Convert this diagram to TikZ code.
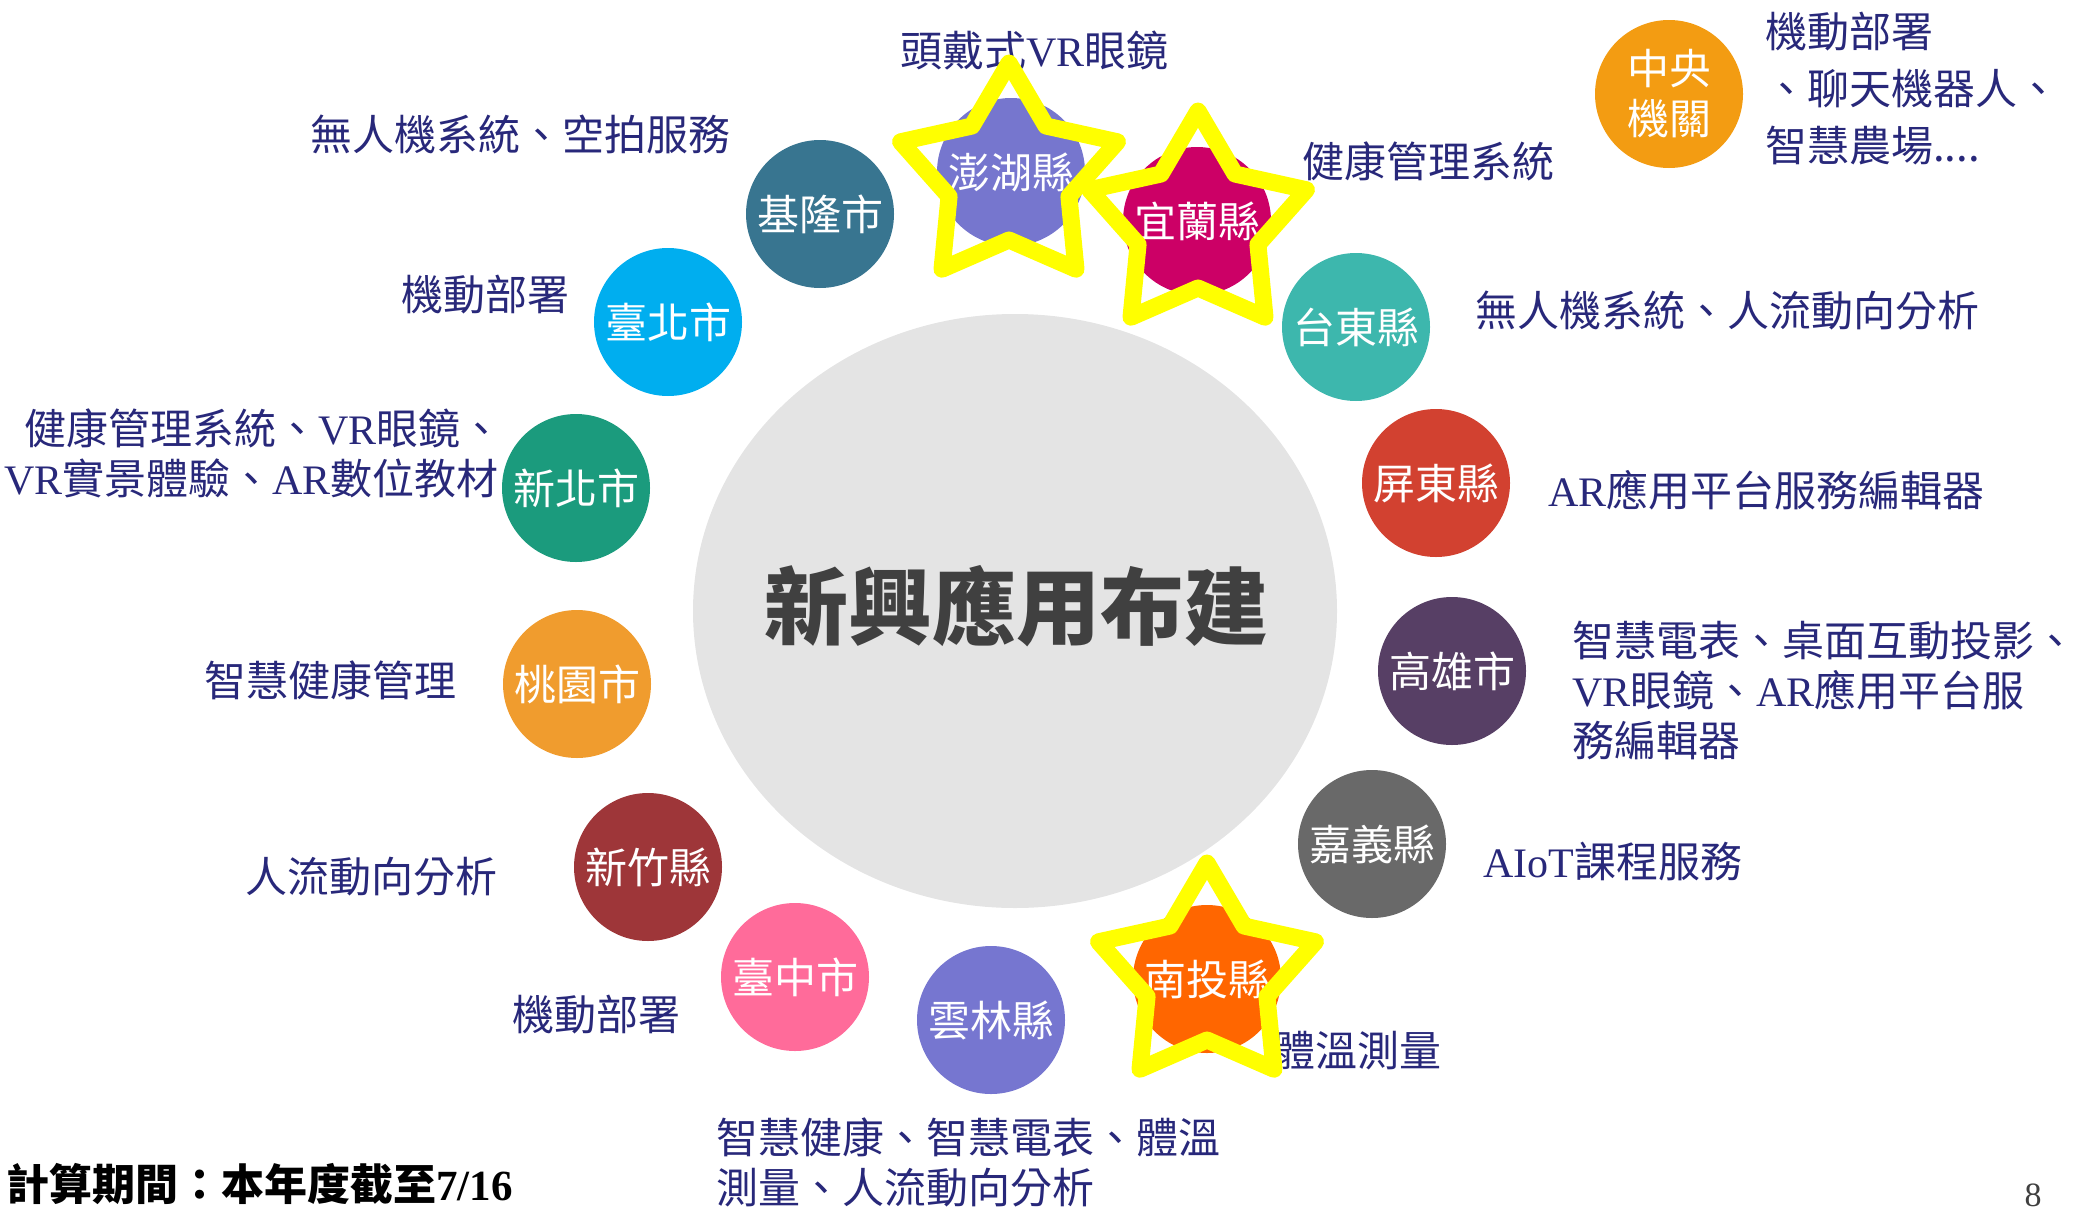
\documentclass[tikz,border=0pt]{standalone}
\usepackage{fontspec}
\usetikzlibrary{shapes.geometric}
\setmainfont{Liberation Serif}
\newfontfamily\zhfont{Noto Sans CJK TC}
\newcommand\zh[1]{{\zhfont #1}}
\definecolor{navy}{HTML}{28287A}
\definecolor{ellgray}{HTML}{E4E4E4}
\definecolor{ctext}{HTML}{404040}
\definecolor{cPH}{HTML}{7676CE}
\definecolor{cYL}{HTML}{CC0066}
\definecolor{cKL}{HTML}{387590}
\definecolor{cTP}{HTML}{00AEEF}
\definecolor{cTT}{HTML}{3DB7AD}
\definecolor{cNTP}{HTML}{1B9B7D}
\definecolor{cPT}{HTML}{D24130}
\definecolor{cTY}{HTML}{F09C2E}
\definecolor{cKH}{HTML}{573F65}
\definecolor{cHC}{HTML}{9E3639}
\definecolor{cCY}{HTML}{696969}
\definecolor{cTC}{HTML}{FF6B9A}
\definecolor{cYLN}{HTML}{7676D0}
\definecolor{cNT}{HTML}{FF6600}
\definecolor{cGOV}{HTML}{F39C12}
\definecolor{staryellow}{HTML}{FFFF00}
\tikzset{
  city/.style={circle, minimum size=148pt, inner sep=0pt, text=white,
    font=\zhfont\fontsize{42}{50}\selectfont, align=center},
  lbl/.style={anchor=west, inner sep=0pt, text=navy,
    font=\fontsize{42}{50}\selectfont, align=left},
  ystar/.pic={\draw[staryellow, line width=17pt, line join=round]
    (-90:114) -- (-54:63) -- (-18:114) -- (18:63) -- (54:114) -- (90:63)
    -- (126:114) -- (162:63) -- (198:114) -- (234:63) -- cycle;}
}
\begin{document}
\begin{tikzpicture}[x=1pt,y=-1pt]
\useasboundingbox (0,0) rectangle (2075,1210);
% central ellipse
\node[ellipse, fill=ellgray, minimum width=644pt, minimum height=594pt, inner sep=0pt] (center) at (1015,611) {};
\node[text=ctext, font=\zhfont\bfseries\fontsize{84}{84}\selectfont] (title) at (1016,606) {新興應用布建};
% city circles
\node[city, fill=cPH] (ph) at (1011,172) {澎湖縣};
\node[city, fill=cYL] (yl) at (1197,221) {宜蘭縣};
\node[city, fill=cKL] (kl) at (820,214) {基隆市};
\node[city, fill=cTP] (tp) at (668,322) {臺北市};
\node[city, fill=cTT] (tt) at (1356,327) {台東縣};
\node[city, fill=cNTP] (ntp) at (576,488) {新北市};
\node[city, fill=cPT] (pt) at (1436,483) {屏東縣};
\node[city, fill=cTY] (ty) at (577,684) {桃園市};
\node[city, fill=cKH] (kh) at (1452,671) {高雄市};
\node[city, fill=cHC] (hc) at (648,867) {新竹縣};
\node[city, fill=cCY] (cy) at (1372,844) {嘉義縣};
\node[city, fill=cTC] (tc) at (795,977) {臺中市};
\node[city, fill=cYLN] (yln) at (991,1020) {雲林縣};
\node[city, fill=cNT] (nt) at (1207,979) {南投縣};
\node[city, fill=cGOV] (gov) at (1669,94) {中央\\機關};
% labels
\node[lbl] (lph) at (900,51) {\zh{頭戴式}VR\zh{眼鏡}};
\node[lbl] (lkl) at (310,134) {\zh{無人機系統、空拍服務}};
\node[lbl] (lyl) at (1302,161) {\zh{健康管理系統}};
\node[lbl] (ltp) at (401,295) {\zh{機動部署}};
\node[lbl] (ltt) at (1475,310) {\zh{無人機系統、人流動向分析}};
\node[lbl] (lntp) at (4,453) {\hspace*{20pt}\zh{健康管理系統、}VR\zh{眼鏡、}\\VR\zh{實景體驗、}AR\zh{數位教材}};
\node[lbl] (lpt) at (1548,490) {AR\zh{應用平台服務編輯器}};
\node[lbl] (lty) at (204,680) {\zh{智慧健康管理}};
\node[lbl] (lkh) at (1572,690) {\zh{智慧電表、桌面互動投影、}\\VR\zh{眼鏡、}AR\zh{應用平台服}\\\zh{務編輯器}};
\node[lbl] (lhc) at (245,877) {\zh{人流動向分析}};
\node[lbl] (lcy) at (1483,861) {AIoT\zh{課程服務}};
\node[lbl] (ltc) at (512,1015) {\zh{機動部署}};
\node[lbl] (lnt) at (1273,1051) {\zh{體溫測量}};
\node[lbl] (lyln) at (716,1162) {\zh{智慧健康、智慧電表、體溫}\\\zh{測量、人流動向分析}};
\node[lbl, font=\fontsize{42}{57}\selectfont] (lgov) at (1765,89) {\zh{機動部署}\\\zh{、聊天機器人、}\\\zh{智慧農場....}};
% footer
\node[anchor=west, inner sep=0pt, font=\fontsize{43}{43}\selectfont\bfseries] (period) at (6,1184) {\zh{計算期間：本年度截至}7/16};
\node[inner sep=0pt, text=ctext, font=\fontsize{34}{34}\selectfont] (page) at (2033,1195) {8};
% stars
\pic at (1009,177) {ystar};
\pic at (1198,225) {ystar};
\pic at (1207,977) {ystar};
\end{tikzpicture}
\end{document}
